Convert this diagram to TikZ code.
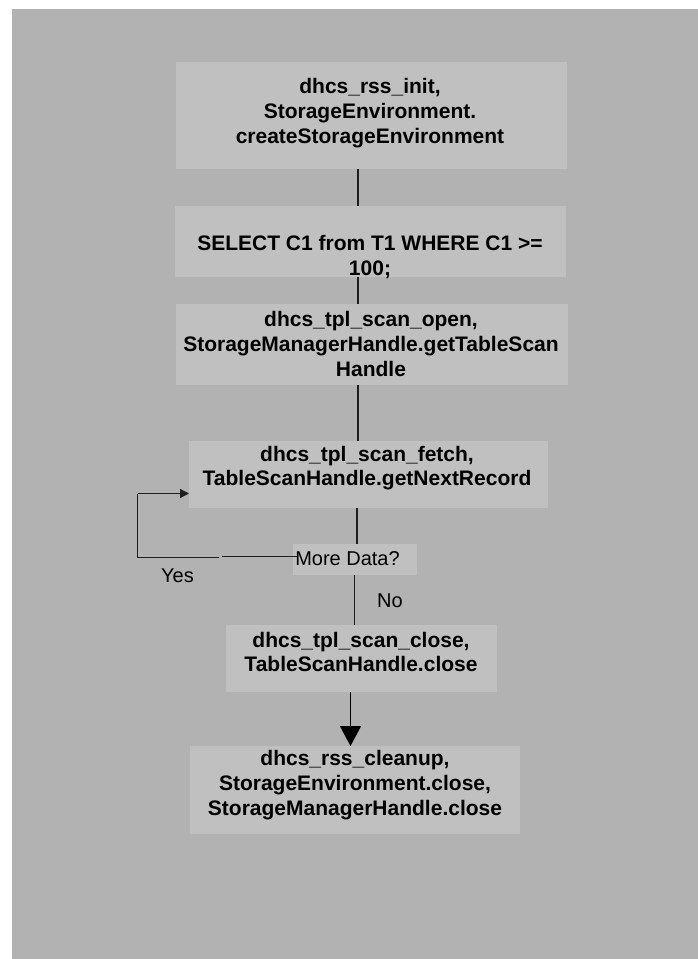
\documentclass[tikz,border=0pt]{standalone}
\usepackage{fontspec}
\setmainfont{Liberation Sans}
\usetikzlibrary{arrows.meta}

\definecolor{panelgray}{RGB}{178,178,178}
\definecolor{boxgray}{RGB}{192,192,192}
\definecolor{linegray}{RGB}{30,30,30}

\tikzset{
  stepbox/.style={fill=boxgray, draw=none, inner sep=0pt, anchor=north west},
  steptext/.style={font=\bfseries\fontsize{21}{24.7}\selectfont, align=center, inner sep=0pt, text=black},
  plaintext/.style={font=\fontsize{20}{24}\selectfont, inner sep=0pt, text=black},
  link/.style={draw=linegray, line width=1.3pt},
  loopline/.style={link, -{Triangle[length=9pt,width=9pt]}},
  bigarrow/.style={draw=black, line width=1.6pt, -{Triangle[length=20pt,width=21pt]}}
}

\begin{document}
\begin{tikzpicture}[x=1pt, y=-1pt]
  \useasboundingbox (0,0) rectangle (698,959);
  \fill[white] (0,0) rectangle (698,959);
  \fill[panelgray] (12,9) rectangle (698,959);

  % process boxes
  \node[stepbox, minimum width=391pt, minimum height=107pt] (b1) at (176,62) {};
  \node[stepbox, minimum width=391pt, minimum height=71pt]  (b2) at (175,206) {};
  \node[stepbox, minimum width=392pt, minimum height=81pt]  (b3) at (176,304) {};
  \node[stepbox, minimum width=359pt, minimum height=67pt]  (b4) at (189,441) {};
  \node[stepbox, minimum width=124pt, minimum height=31pt]  (md) at (293,544) {};
  \node[stepbox, minimum width=271pt, minimum height=67pt]  (b5) at (226,625) {};
  \node[stepbox, minimum width=330pt, minimum height=88pt]  (b6) at (190,746) {};

  % box captions
  \node[steptext] (t1) at (370,113) {dhcs\_rss\_init,\\StorageEnvironment.\\createStorageEnvironment};
  \node[steptext] (t2) at (370,257) {SELECT C1 from T1 WHERE C1 >=\\100;};
  \node[steptext] (t3) at (371,344) {dhcs\_tpl\_scan\_open,\\StorageManagerHandle.getTableScan\\Handle};
  \node[steptext] (t4) at (367,468) {dhcs\_tpl\_scan\_fetch,\\TableScanHandle.getNextRecord};
  \node[steptext] (t5) at (361,652) {dhcs\_tpl\_scan\_close,\\TableScanHandle.close};
  \node[steptext] (t6) at (355,785) {dhcs\_rss\_cleanup,\\StorageEnvironment.close,\\StorageManagerHandle.close};
  \node[plaintext] (tmd) at (347.5,559) {More Data?};
  \node[plaintext] (tyes) at (177.5,576) {Yes};
  \node[plaintext] (tno) at (390,601) {No};

  % vertical guides for the flow line
  \coordinate (s1) at (358,0);
  \coordinate (s2) at (357,0);
  \coordinate (s3) at (354.5,0);
  \coordinate (s4) at (350.5,0);

  \draw[link] (b1.south -| s1) -- (b2.north -| s1);
  \draw[link] (b2.south -| s1) -- (b3.north -| s1);
  \draw[link] (b3.south -| s1) -- (b4.north -| s1);
  \draw[link] (b4.south -| s2) -- (md.north -| s2);
  \draw[link] (md.south -| s3) -- (b5.north -| s3);
  \draw[bigarrow] (b5.south -| s4) -- (b6.north -| s4);

  % "Yes" loop back to the fetch step
  \coordinate (yesstart) at (297,556.8);
  \coordinate (gapright) at (222,556.8);
  \coordinate (gapleft) at (219,557.6);
  \coordinate (corner) at (137.5,557.6);
  \coordinate (looptop) at (137.5,493.5);
  \draw[link] (yesstart) -- (gapright);
  \draw[link] (gapleft) -- (corner) -- (looptop);
  \draw[loopline] (looptop) -- (b4.west |- looptop);
\end{tikzpicture}
\end{document}
